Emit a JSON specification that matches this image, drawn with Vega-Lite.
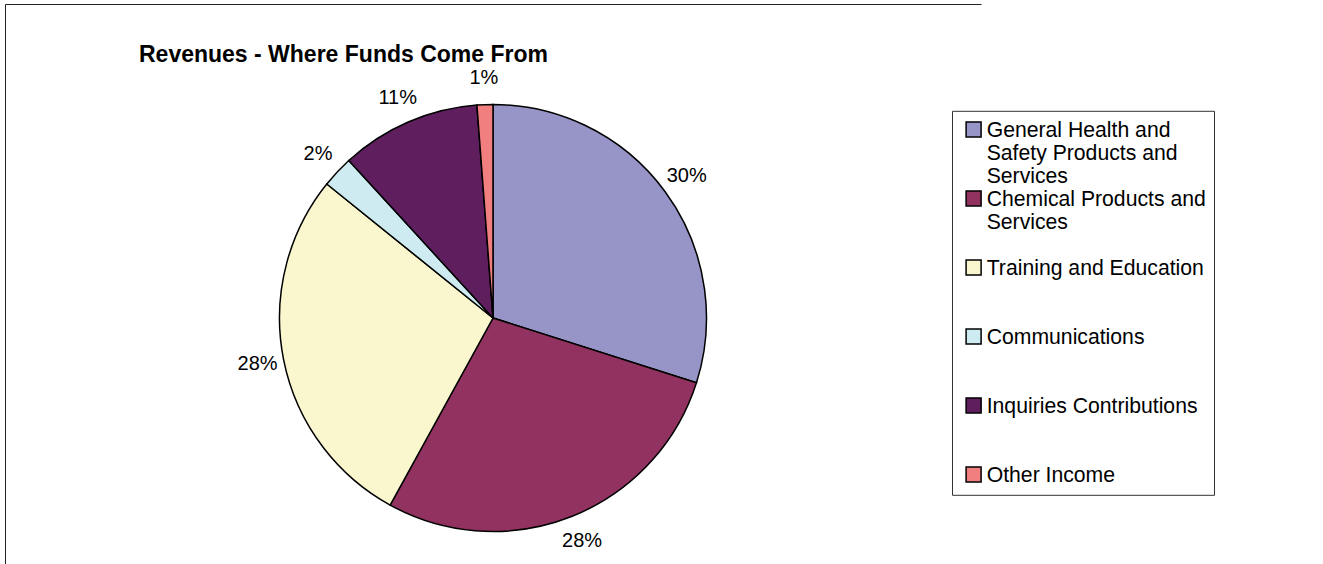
{
  "$schema": "https://vega.github.io/schema/vega-lite/v6.json",
  "width": 976,
  "height": 628,
  "autosize": {"type": "none"},
  "padding": {"left": 5, "top": 4, "right": 342, "bottom": -68},
  "background": "white",
  "view": {"stroke": "#222222", "strokeWidth": 1, "strokeDash": [976, 628, 1604, 0]},
  "title": {
    "text": "Revenues - Where Funds Come From",
    "anchor": "start",
    "frame": "group",
    "dx": 134,
    "offset": -81,
    "baseline": "alphabetic",
    "fontSize": 23,
    "fontWeight": "bold",
    "font": "Liberation Sans",
    "color": "black"
  },
  "data": {
    "values": [
      {"source": "General Health and Safety Products and Services", "share": 0.299, "idx": 1},
      {"source": "Chemical Products and Services", "share": 0.281, "idx": 2},
      {"source": "Training and Education", "share": 0.278, "idx": 3},
      {"source": "Communications", "share": 0.024, "idx": 4},
      {"source": "Inquiries Contributions", "share": 0.106, "idx": 5},
      {"source": "Other Income", "share": 0.012, "idx": 6}
    ]
  },
  "encoding": {
    "theta": {"field": "share", "type": "quantitative", "stack": true},
    "order": {"field": "idx", "type": "quantitative"}
  },
  "layer": [
    {
      "mark": {"type": "arc", "radius": 213.5, "stroke": "black", "strokeWidth": 1.5},
      "encoding": {
        "color": {
          "field": "source",
          "type": "nominal",
          "sort": null,
          "scale": {
            "domain": ["General Health and Safety Products and Services", "Chemical Products and Services", "Training and Education", "Communications", "Inquiries Contributions", "Other Income"],
            "range": ["#9794C8", "#913260", "#FAF7CE", "#CDEBF0", "#5F1F5F", "#F27F7F"]
          },
          "legend": {
            "title": null,
            "orient": "none",
            "legendX": 947,
            "legendY": 106.8,
            "direction": "vertical",
            "strokeColor": "#333333",
            "fillColor": "white",
            "padding": 8,
            "symbolType": "square",
            "symbolSize": 225,
            "symbolStrokeColor": "black",
            "symbolStrokeWidth": 1.5,
            "symbolOpacity": 1,
            "symbolOffset": 3,
            "labelOffset": 2.5,
            "labelFont": "Liberation Sans",
            "labelFontSize": 21.2,
            "labelColor": "black",
            "labelBaseline": "top",
            "labelLimit": 0,
            "rowPadding": 0,
            "labelExpr": "datum.label == 'General Health and Safety Products and Services' ? ['General Health and', 'Safety Products and', 'Services'] : datum.label == 'Chemical Products and Services' ? ['Chemical Products and', 'Services', ''] : datum.label == 'Other Income' ? 'Other Income' : [datum.label, '', '']",
            "encode": {"labels": {"update": {"dy": {"value": -9}, "lineHeight": {"value": 22.9}}}}
          }
        }
      }
    },
    {
      "mark": {"type": "text", "radius": 240, "fontSize": 20, "font": "Liberation Sans"},
      "encoding": {
        "text": {"field": "share", "type": "quantitative", "format": ".0%"},
        "detail": {"field": "source", "type": "nominal"},
        "color": {"value": "black"}
      }
    }
  ],
  "config": {
    "view": {"stroke": "#222222", "strokeWidth": 1, "strokeDash": [976, 628, 1604, 0]}
  }
}
